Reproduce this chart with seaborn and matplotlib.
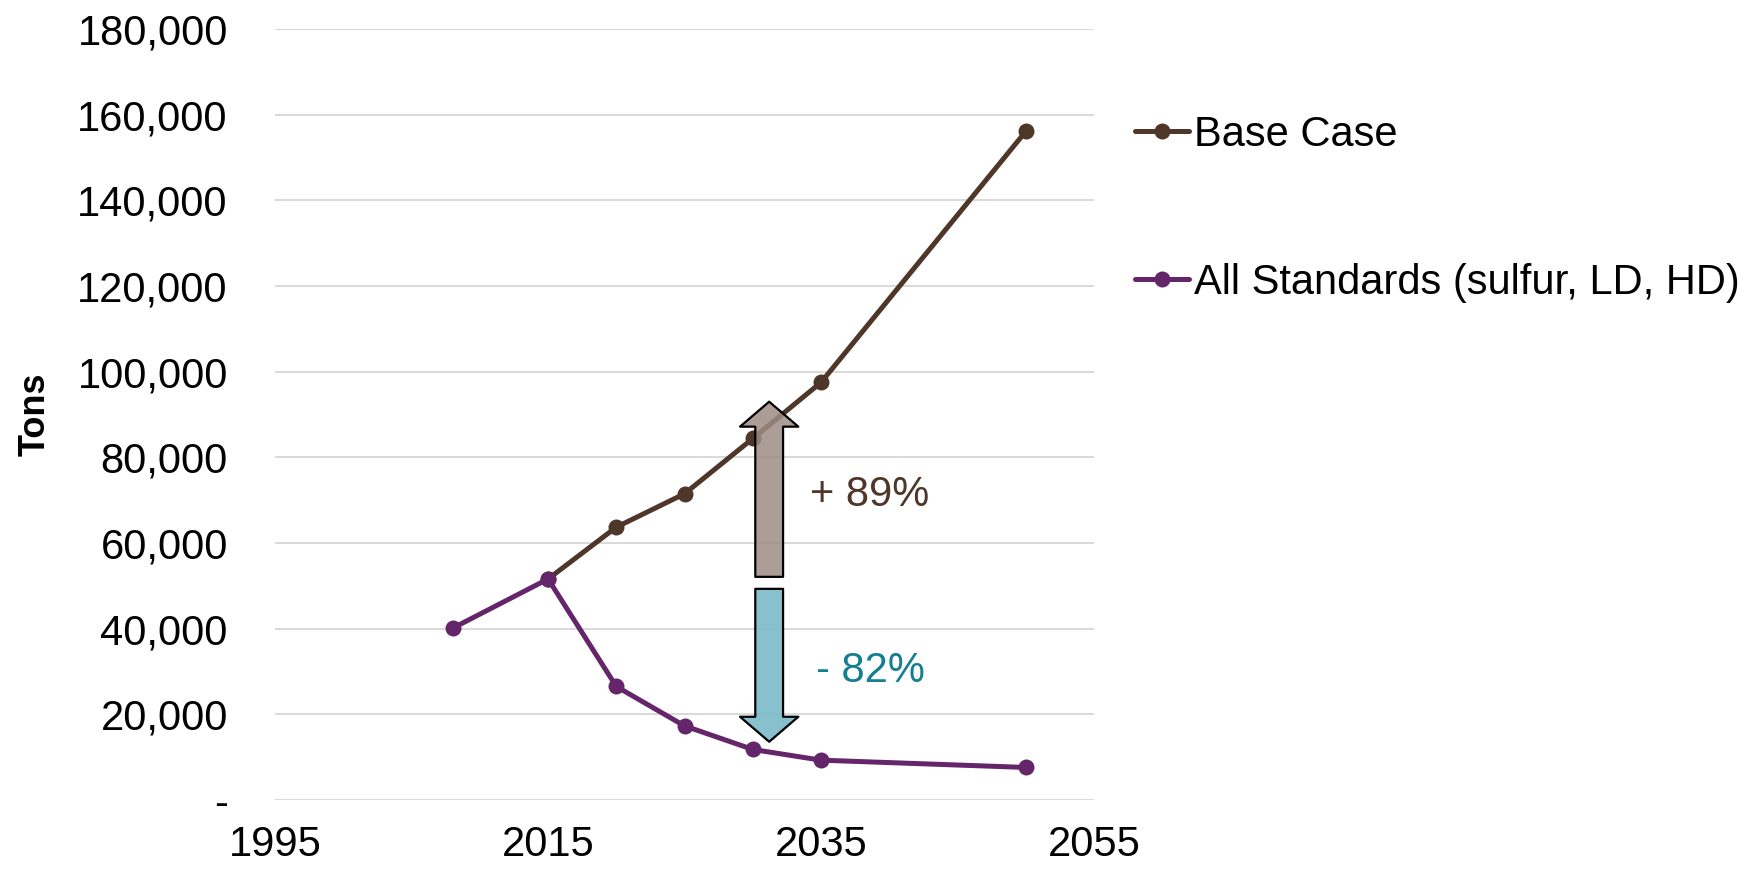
import matplotlib
matplotlib.use("Agg")
import matplotlib.pyplot as plt
from matplotlib.patches import FancyArrowPatch
from matplotlib.ticker import FuncFormatter
import seaborn as sns
import pandas as pd

# Emissions projections (tons)
base_years = [2015, 2020, 2025, 2030, 2035, 2050]
base_tons = [51600, 63700, 71500, 84400, 97500, 156100]
std_years = [2008, 2015, 2020, 2025, 2030, 2035, 2050]
std_tons = [40100, 51600, 26500, 17300, 11800, 9300, 7600]

series_labels = ["Base Case", "All Standards (sulfur, LD, HD)"]
change_labels = ["+ 89%", "- 82%"]
x_ticks = [1995, 2015, 2035, 2055]
y_ticks = list(range(0, 180001, 20000))

BROWN = "#4E3629"
PURPLE = "#64256B"
TEAL_TXT = "#147F91"

sns.set_theme(style="white")
plt.rcParams["font.family"] = ["Liberation Sans", "DejaVu Sans"]
plt.rcParams["text.color"] = "black"

fig = plt.figure(figsize=(17.6, 8.69), dpi=100)
ax = fig.add_axes([0.1563, 0.0794, 0.4653, 0.8872])

base_df = pd.DataFrame({"year": base_years, "tons": base_tons})
std_df = pd.DataFrame({"year": std_years, "tons": std_tons})

sns.lineplot(data=base_df, x="year", y="tons", ax=ax, color=BROWN, lw=3.6,
             marker="o", markersize=11.5, markeredgewidth=0, label=series_labels[0],
             zorder=3)
sns.lineplot(data=std_df, x="year", y="tons", ax=ax, color=PURPLE, lw=3.6,
             marker="o", markersize=11.5, markeredgewidth=0, label=series_labels[1],
             zorder=3)

ax.set_xlim(1995, 2055)
ax.set_ylim(0, 180000)
ax.set_xticks(x_ticks)
ax.set_yticks(y_ticks)
ax.yaxis.set_major_formatter(FuncFormatter(lambda v, p: "-" if v == 0 else f"{int(v):,}"))
ax.grid(axis="y", color="#D9D9D9", lw=1.4)
ax.grid(axis="x", visible=False)
ax.set_axisbelow(True)
for s in ax.spines.values():
    s.set_visible(False)
ax.tick_params(axis="y", labelsize=30, pad=34, length=0, colors="black")
ax.tick_params(axis="x", labelsize=30, pad=18, length=0, colors="black")
ax.set_xlabel("")
ax.set_ylabel("Tons", fontsize=26, fontweight="bold", labelpad=18, color="black")

# Change arrows between the two scenarios in 2035
arrow_x = 2031.2
up = FancyArrowPatch((arrow_x, 52100), (arrow_x, 93000),
                     arrowstyle="simple,head_length=18,head_width=42,tail_width=20",
                     mutation_scale=1, shrinkA=0, shrinkB=0,
                     facecolor=(0.62, 0.55, 0.52, 0.85), edgecolor="black",
                     lw=1.6, zorder=4)
down = FancyArrowPatch((arrow_x, 49300), (arrow_x, 13600),
                       arrowstyle="simple,head_length=18,head_width=42,tail_width=20",
                       mutation_scale=1, shrinkA=0, shrinkB=0,
                       facecolor=(0.47, 0.72, 0.78, 0.88), edgecolor="black",
                       lw=1.6, zorder=4)
ax.add_patch(up)
ax.add_patch(down)
ax.text(2034.2, 71300, change_labels[0], color=BROWN, fontsize=30,
        va="center", ha="left", zorder=5)
ax.text(2034.6, 30100, change_labels[1], color=TEAL_TXT, fontsize=30,
        va="center", ha="left", zorder=5)

leg = ax.legend(loc="upper left", bbox_to_anchor=(0.645, 0.868),
                bbox_transform=fig.transFigure, frameon=False, fontsize=30,
                handlelength=1.3, handletextpad=0.1, labelspacing=2.6,
                borderpad=0, borderaxespad=0)
for t in leg.get_texts():
    t.set_color("black")

fig.savefig("out.png", dpi=100)
